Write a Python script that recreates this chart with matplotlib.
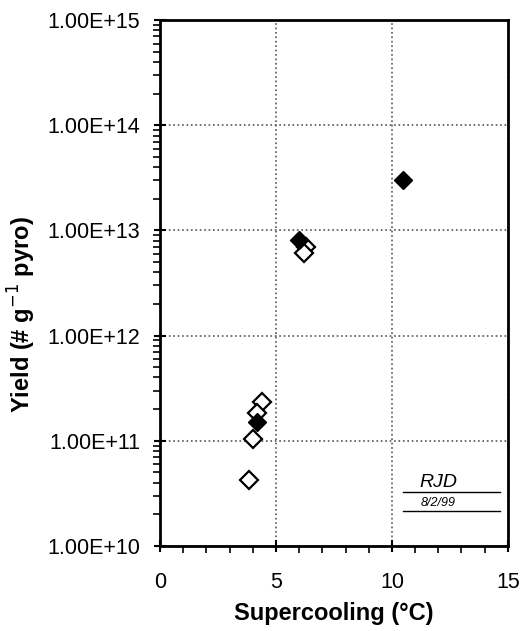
import matplotlib.pyplot as plt
from matplotlib.ticker import MultipleLocator, LogLocator, FixedLocator, NullFormatter

plt.rcParams['font.family'] = ['Liberation Sans', 'DejaVu Sans']

# open diamonds
open_x = [6.3, 6.2, 4.4, 4.2, 4.0, 3.85]
open_y = [7.0e12, 6.1e12, 2.35e11, 1.85e11, 1.03e11, 4.2e10]
# filled diamonds
filled_x = [10.5, 6.0, 4.2]
filled_y = [3.0e13, 8.2e12, 1.5e11]

yticks = [1e10, 1e11, 1e12, 1e13, 1e14, 1e15]
ytick_labels = ['1.00E+10', '1.00E+11', '1.00E+12', '1.00E+13', '1.00E+14', '1.00E+15']

fig = plt.figure(figsize=(5.23, 6.31), dpi=100)
ax = fig.add_axes([0.306, 0.135, 0.665, 0.833])

ax.plot(open_x, open_y, linestyle='none', marker='D', markersize=9,
        markerfacecolor='white', markeredgecolor='black', markeredgewidth=1.6, zorder=3)
ax.plot(filled_x, filled_y, linestyle='none', marker='D', markersize=9,
        markerfacecolor='black', markeredgecolor='black', zorder=4)

ax.set_yscale('log')
ax.set_xlim(0, 15)
ax.set_ylim(1e10, 1e15)
ax.set_xticks([0, 5, 10, 15])
ax.xaxis.set_minor_locator(MultipleLocator(1))
ax.yaxis.set_major_locator(FixedLocator(yticks))
ax.set_yticklabels(ytick_labels)
ax.yaxis.set_minor_locator(LogLocator(base=10, subs=range(2, 10)))
ax.yaxis.set_minor_formatter(NullFormatter())

ax.tick_params(which='major', direction='inout', length=9, width=1.5, labelsize=15.5)
ax.tick_params(axis='x', which='major', pad=14)
ax.tick_params(axis='y', which='major', pad=10)
ax.tick_params(which='minor', direction='out', length=5, width=1.2)
for s in ax.spines.values():
    s.set_linewidth(2)

ax.grid(True, which='major', color='#555555', linestyle=':', linewidth=1.2)

ax.set_xlabel('Supercooling (°C)', fontsize=17, fontweight='bold', labelpad=7)
ax.set_ylabel('Yield (# g$^{-1}$ pyro)', fontsize=17, fontweight='bold')
ax.yaxis.set_label_coords(-0.35, 0.44)

# handwritten initials and date in the corner
ax.plot([0.70, 0.977], [0.103, 0.103], transform=ax.transAxes, color='black', linewidth=1)
ax.plot([0.70, 0.977], [0.067, 0.067], transform=ax.transAxes, color='black', linewidth=1)
ax.text(0.80, 0.105, 'RJD', transform=ax.transAxes, fontsize=14, style='italic', ha='center', va='bottom')
ax.text(0.80, 0.07, '8/2/99', transform=ax.transAxes, fontsize=9, style='italic', ha='center', va='bottom')

fig.savefig('out.png', dpi=100)
